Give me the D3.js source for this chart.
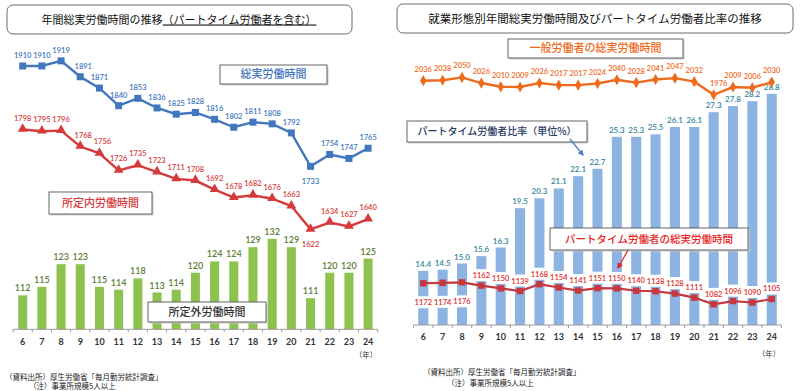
<!DOCTYPE html>
<html><head><meta charset="utf-8">
<script src="https://cdn.jsdelivr.net/npm/d3@7"></script>
<style>
body{margin:0;background:#fff;}
svg{display:block;}
</style></head><body>
<svg id="c" width="800" height="391"></svg>
<script>
const years = [6,7,8,9,10,11,12,13,14,15,16,17,18,19,20,21,22,23,24];
// Left chart
const totalHours     = [1910,1910,1919,1891,1871,1840,1853,1836,1825,1828,1816,1802,1811,1808,1792,1733,1754,1747,1765];
const scheduledHours = [1798,1795,1796,1768,1756,1726,1735,1723,1711,1708,1692,1678,1682,1676,1663,1622,1634,1627,1640];
const overtimeHours  = [112,115,123,123,115,114,118,113,114,120,124,124,129,132,129,111,120,120,125];
// Right chart
const generalHours   = [2036,2038,2050,2026,2010,2009,2026,2017,2017,2024,2040,2028,2041,2047,2032,1976,2009,2006,2030];
const partRatio      = [14.4,14.5,15.0,15.6,16.3,19.5,20.3,21.1,22.1,22.7,25.3,25.3,25.5,26.1,26.1,27.3,27.8,28.2,28.8];
const partHours      = [1172,1174,1176,1162,1150,1139,1168,1154,1141,1151,1150,1140,1138,1128,1111,1082,1096,1090,1105];

const svg = d3.select("#c");
const JP = '"Noto Sans CJK JP","Noto Sans",sans-serif';
const NUM = 'Lato,"Open Sans",sans-serif';

function titleBox(x,y,w,h,text,size){
  svg.append("rect").attr("x",x).attr("y",y).attr("width",w).attr("height",h)
    .attr("rx",6).attr("fill","#fff").attr("stroke","#6b6b6b").attr("stroke-width",1);
  return svg.append("text").attr("x",x+w/2).attr("y",y+h/2+4).attr("text-anchor","middle")
    .attr("font-family",JP).attr("font-size",size).attr("fill","#111").text(text);
}
function labelBox(x,y,w,h,text,color,size){
  svg.append("rect").attr("x",x+1.5).attr("y",y+1.5).attr("width",w).attr("height",h).attr("fill","#d0d0d0");
  svg.append("rect").attr("x",x).attr("y",y).attr("width",w).attr("height",h)
    .attr("fill","#fff").attr("stroke","#555").attr("stroke-width",0.9);
  svg.append("text").attr("x",x+w/2).attr("y",y+h/2+3.8).attr("text-anchor","middle")
    .attr("font-family",JP).attr("font-size",size).attr("font-weight",500).attr("fill",color).text(text);
}
function xAxis(x, y0, labelY, unitY, unitX){
  const g = svg.append("g");
  const [r0,r1] = x.range();
  g.append("line").attr("x1",r0).attr("x2",r1).attr("y1",y0).attr("y2",y0).attr("stroke","#9a9a9a");
  const step = x.step();
  d3.range(years.length+1).forEach(i=>{
    g.append("line").attr("x1",r0+i*step).attr("x2",r0+i*step).attr("y1",y0).attr("y2",y0+3).attr("stroke","#9a9a9a");
  });
  g.selectAll("text.tk").data(years).join("text")
    .attr("x",d=>x(d)+x.bandwidth()/2).attr("y",labelY).attr("text-anchor","middle")
    .attr("font-family",NUM).attr("font-size",9).attr("font-weight",700).attr("fill","#333").text(d=>d);
  svg.append("text").attr("x",unitX).attr("y",unitY).attr("text-anchor","middle")
    .attr("font-family",JP).attr("font-size",7.5).attr("fill","#333").text("（年）");
}

// ================= LEFT CHART =================
titleBox(7,5,345,29,"",11);
{
  const t = svg.append("text").attr("x",179).attr("y",23.5).attr("text-anchor","middle")
    .attr("font-family",JP).attr("font-size",11).attr("fill","#111");
  t.append("tspan").text("年間総実労働時間の推移");
  t.append("tspan").attr("text-decoration","underline").text("（パートタイム労働者を含む）");
}
const xL = d3.scaleBand().domain(years).range([13.1,377.7]).paddingInner(0.53).paddingOuter(0.265);
const cxL = d => xL(d)+xL.bandwidth()/2;
const yL = d3.scaleLinear().domain([1600,1950]).range([241.8,43.3]);
const yB = d3.scaleLinear().domain([100,140]).range([329.3,216.1]);

// bars
svg.append("g").selectAll("rect").data(overtimeHours).join("rect")
  .attr("x",(d,i)=>xL(years[i])).attr("width",xL.bandwidth())
  .attr("y",d=>yB(d)).attr("height",d=>yB(100)-yB(d)).attr("fill","#8dc24f");
svg.append("g").selectAll("text").data(overtimeHours).join("text")
  .attr("x",(d,i)=>cxL(years[i])).attr("y",d=>yB(d)-4).attr("text-anchor","middle")
  .attr("font-family",NUM).attr("font-size",9).attr("font-weight",600).attr("fill","#5a7d33").text(d=>d);

xAxis(xL, 329.3, 344.5, 358, 366);

// total hours line
const lineL = d3.line().x((d,i)=>cxL(years[i])).y(d=>yL(d));
svg.append("path").datum(totalHours).attr("d",lineL).attr("fill","none").attr("stroke","#4077bd").attr("stroke-width",2.4);
svg.append("g").selectAll("rect").data(totalHours).join("rect")
  .attr("x",(d,i)=>cxL(years[i])-3.5).attr("y",d=>yL(d)-3.5).attr("width",7).attr("height",7).attr("fill","#4077bd");
svg.append("g").selectAll("text").data(totalHours).join("text")
  .attr("x",(d,i)=>cxL(years[i])+(i===3?3:0)).attr("y",(d,i)=>i===15?yL(d)+18:yL(d)-8)
  .attr("text-anchor","middle").attr("font-family",NUM).attr("font-size",7.5).attr("font-weight",600)
  .attr("fill","#4077bd").text(d=>d);

// scheduled hours line
svg.append("path").datum(scheduledHours).attr("d",lineL).attr("fill","none").attr("stroke","#d63a3a").attr("stroke-width",2.4);
const tri = d3.symbol().type(d3.symbolTriangle).size(42);
svg.append("g").selectAll("path").data(scheduledHours).join("path")
  .attr("d",tri).attr("transform",(d,i)=>`translate(${cxL(years[i])},${yL(d)-0.5})`).attr("fill","#d63a3a");
svg.append("g").selectAll("text").data(scheduledHours).join("text")
  .attr("x",(d,i)=>cxL(years[i])+(i>=3&&i<=4?3:0)).attr("y",(d,i)=>i===15?yL(d)+18:yL(d)-9)
  .attr("text-anchor","middle").attr("font-family",NUM).attr("font-size",7.5).attr("font-weight",600)
  .attr("fill","#d63a3a").text(d=>d);

labelBox(220,65,107,19,"総実労働時間","#3f74b9",11);
labelBox(49,192,103,22,"所定内労働時間","#d63a3a",11);
labelBox(148,302,118,20,"所定外労働時間","#333",11);

svg.append("text").attr("x",5).attr("y",379.5).attr("font-family",JP).attr("font-size",7.5).attr("fill","#222")
  .text("（資料出所）厚生労働省「毎月勤労統計調査」");
svg.append("text").attr("x",29).attr("y",389).attr("font-family",JP).attr("font-size",7.5).attr("fill","#222")
  .text("（注）事業所規模5人以上");

// ================= RIGHT CHART =================
titleBox(397,4,396,29,"就業形態別年間総実労働時間及びパートタイム労働者比率の推移",11.5);

const xR = d3.scaleBand().domain(years).range([413.6,781.4]).paddingInner(0.48).paddingOuter(0.24);
const cxR = d => xR(d)+xR.bandwidth()/2;
const yR = d3.scaleLinear().domain([1000,2100]).range([323.6,65.7]);
const yP = d3.scaleLinear().domain([10,30]).range([325,79]);

svg.append("g").selectAll("rect").data(partRatio).join("rect")
  .attr("x",(d,i)=>xR(years[i])).attr("width",xR.bandwidth())
  .attr("y",d=>yP(d)).attr("height",d=>yP(10)-yP(d)).attr("fill","#8db3e2");
svg.append("g").selectAll("text").data(partRatio).join("text")
  .attr("x",(d,i)=>cxR(years[i])).attr("y",d=>yP(d)-4).attr("text-anchor","middle")
  .attr("font-family",NUM).attr("font-size",8).attr("font-weight",600).attr("fill","#31849b").text(d=>d.toFixed(1));

xAxis(xR, 325, 340, 357, 769);

// general workers line
const lineR = d3.line().x((d,i)=>cxR(years[i])).y(d=>yR(d));
svg.append("path").datum(generalHours).attr("d",lineR).attr("fill","none").attr("stroke","#ee6a1c").attr("stroke-width",2.4);
const dia = d3.symbol().type(d3.symbolDiamond).size(36);
svg.append("g").selectAll("path").data(generalHours).join("path")
  .attr("d",dia).attr("transform",(d,i)=>`translate(${cxR(years[i])},${yR(d)})`).attr("fill","#ee6a1c");
svg.append("g").selectAll("text").data(generalHours).join("text")
  .attr("x",(d,i)=>cxR(years[i])+(i===15?5:0)).attr("y",d=>yR(d)-9).attr("text-anchor","middle")
  .attr("font-family",NUM).attr("font-size",7.5).attr("font-weight",600).attr("fill","#ee6a1c").text(d=>d);

// part-time hours line
svg.append("path").datum(partHours).attr("d",lineR).attr("fill","none").attr("stroke","#c8373b").attr("stroke-width",2.2);
svg.append("g").selectAll("rect").data(partHours).join("rect")
  .attr("x",(d,i)=>cxR(years[i])-3.2).attr("y",d=>yR(d)-3.2).attr("width",6.4).attr("height",6.4).attr("fill","#c8373b");
const phLab = svg.append("g").selectAll("g").data(partHours).join("g")
  .attr("transform",(d,i)=>`translate(${cxR(years[i])},${i<3?yR(d)+19:yR(d)-10.5})`);
phLab.append("rect").attr("x",-10.5).attr("y",-6).attr("width",21).attr("height",12).attr("fill","#fff");
phLab.append("text").attr("y",3).attr("text-anchor","middle")
  .attr("font-family",NUM).attr("font-size",7.5).attr("font-weight",600).attr("fill","#e02a2a").text(d=>d);

labelBox(508,39,175,19,"一般労働者の総実労働時間","#ee6a1c",11);
labelBox(407,121,180,21,"パートタイム労働者比率（単位%）","#1f3864",10);
labelBox(550,228,198,22,"パートタイム労働者の総実労働時間","#e8231f",10.5);

// arrows
const defs = svg.append("defs");
function arrowHead(id,color){
  defs.append("marker").attr("id",id).attr("viewBox","0 0 10 10").attr("refX",8).attr("refY",5)
    .attr("markerWidth",5).attr("markerHeight",5).attr("orient","auto")
    .append("path").attr("d","M0,0L10,5L0,10z").attr("fill",color);
}
arrowHead("ab","#4a7ebb");
arrowHead("ar","#d8262a");
svg.append("line").attr("x1",570).attr("y1",139).attr("x2",583).attr("y2",155)
  .attr("stroke","#4a7ebb").attr("stroke-width",1.2).attr("marker-end","url(#ab)");
svg.append("line").attr("x1",628).attr("y1",250).attr("x2",618).attr("y2",268)
  .attr("stroke","#d8262a").attr("stroke-width",1.2).attr("marker-end","url(#ar)");

svg.append("text").attr("x",423).attr("y",374.5).attr("font-family",JP).attr("font-size",7.5).attr("fill","#222")
  .text("（資料出所）厚生労働省「毎月勤労統計調査」");
svg.append("text").attr("x",447).attr("y",385.5).attr("font-family",JP).attr("font-size",7.5).attr("fill","#222")
  .text("（注）事業所規模5人以上");
</script>
</body></html>
